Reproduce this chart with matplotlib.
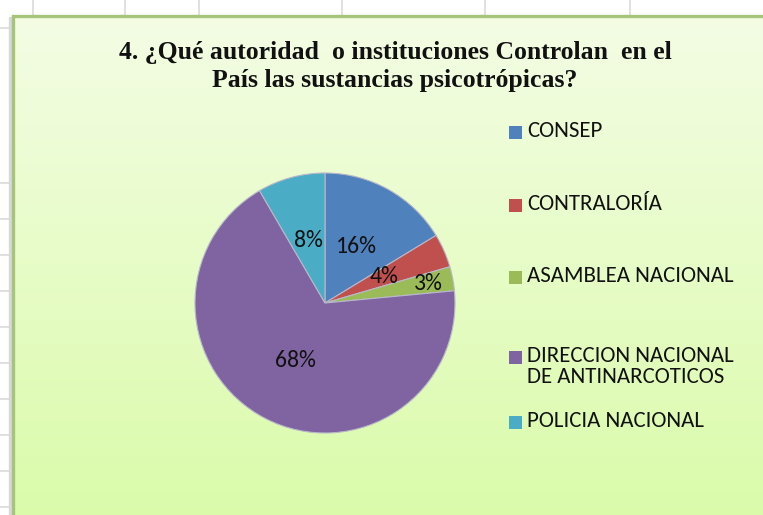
import matplotlib
matplotlib.use("Agg")
import matplotlib.pyplot as plt
import numpy as np
from matplotlib import font_manager
from matplotlib.patches import Rectangle

categories = ["CONSEP", "CONTRALORÍA", "ASAMBLEA NACIONAL",
              "DIRECCION NACIONAL\nDE ANTINARCOTICOS", "POLICIA NACIONAL"]
values = [16.3, 4.2, 3.0, 68.1, 8.4]
colors = ["#4F81BD", "#C0504D", "#9BBB59", "#8064A2", "#4BACC6"]
title = "4. ¿Qué autoridad  o instituciones Controlan  en el\nPaís las sustancias psicotrópicas?"

avail = {f.name for f in font_manager.fontManager.ttflist}
sans = next((f for f in ["Carlito", "Liberation Sans Narrow", "Open Sans"] if f in avail), "DejaVu Sans")
serif = next((f for f in ["Liberation Serif", "DejaVu Serif"] if f in avail), "DejaVu Serif")

W, H = 763, 515
fig = plt.figure(figsize=(W / 100, H / 100), dpi=100)
fig.patch.set_facecolor("white")

# background axes in pixel coordinates
bg = fig.add_axes([0, 0, 1, 1])
bg.set_xlim(0, W)
bg.set_ylim(H, 0)
bg.axis("off")

# spreadsheet grid remnants
for x in [33, 125, 199, 342, 485, 630]:
    bg.plot([x, x], [0, 15], color="#DADADA", lw=1.2)
for y in [28, 183, 219, 255, 291, 327, 363, 399, 435, 471, 507]:
    bg.plot([0, 12], [y, y], color="#DADADA", lw=1.2)

# chart area gradient
grad = np.linspace(0, 1, 256).reshape(-1, 1)
top = np.array([0.955, 0.992, 0.895])
bot = np.array([0.855, 0.985, 0.665])
img = top + (bot - top) * grad[..., None]
bg.imshow(img, extent=[13, W + 5, H + 5, 16], aspect="auto", zorder=1)
bg.add_patch(Rectangle((9, 17), 4, H, color="#D8D8D8", zorder=0.5))
bg.plot([13, 13, W + 5], [H + 5, 16, 16], color="#A6C47A", lw=2.4, zorder=2,
        solid_joinstyle="miter")
bg.set_xlim(0, W)
bg.set_ylim(H, 0)

fig.text(395 / W, 1 - 66.5 / H, title, ha="center", va="center",
         fontsize=18.5, fontweight="bold", family=serif, linespacing=1.33,
         color="#111111")

# pie
cx, cy, r = 325, 303, 130
ax = fig.add_axes([(cx - r) / W, (H - cy - r) / H, 2 * r / W, 2 * r / H])
wedges, texts, autotexts = ax.pie(values, colors=colors, startangle=90,
                                  counterclock=False, autopct="%.0f%%",
                                  pctdistance=0.5,
                                  wedgeprops=dict(linewidth=0.8, edgecolor="#B8B8C8"),
                                  textprops=dict(fontsize=17, family=sans, color="#111111"))
# Excel pushed the small 3% label outward
x3, y3 = autotexts[2].get_position()
autotexts[2].set_position((x3 * 1.62, y3 * 1.62))
ax.set_xlim(-1, 1)
ax.set_ylim(-1, 1)
ax.set_aspect("equal")
ax.axis("off")

# legend
rows = [132, 205, 277, 357, 422]
for w, lab, yy in zip(wedges, categories, rows):
    bg.add_patch(Rectangle((509, yy - 6), 13, 13, facecolor=w.get_facecolor(),
                           edgecolor="none", zorder=3))
    bg.text(527, yy - 11, lab, ha="left", va="top", fontsize=16.5, family=sans,
            color="#111111", linespacing=1.05, zorder=3)

fig.savefig("out.png", dpi=100)
